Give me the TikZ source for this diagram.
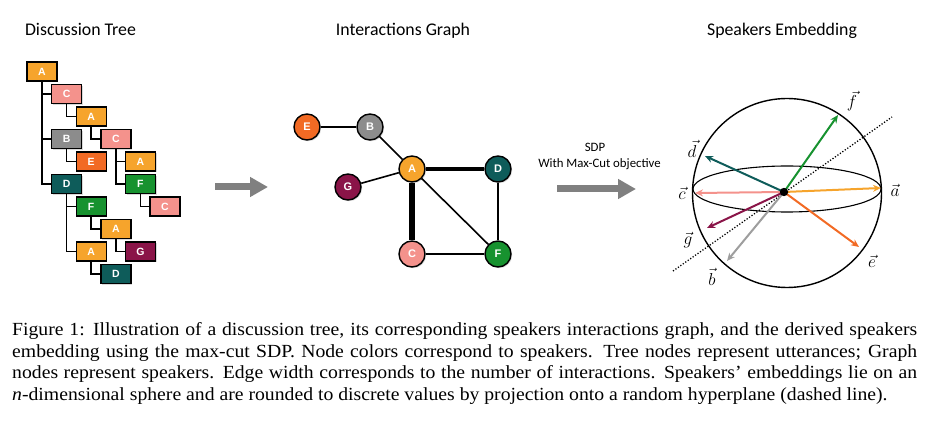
\documentclass[tikz,border=0pt]{standalone}
\usepackage{fontspec}
\setmainfont{Liberation Serif}
\newfontfamily\headfont{Carlito}
\newfontfamily\nodefont{Liberation Sans}
\newfontfamily\capfont[FakeStretch=1.065, Ligatures=TeX]{Liberation Serif}
\usepackage{tikz}
\usetikzlibrary{
	arrows.meta,
	positioning,
	shadows,
	}

\definecolor{spkA}{HTML}{F6A42C}
\definecolor{spkB}{HTML}{8C8C8C}
\definecolor{spkC}{HTML}{F4928C}
\definecolor{spkD}{HTML}{0E5C5A}
\definecolor{spkE}{HTML}{F26A24}
\definecolor{spkF}{HTML}{17922F}
\definecolor{spkG}{HTML}{8A1448}

\tikzset{
	utt/.style={draw, line width=1.4pt, minimum width=30pt, minimum height=19pt, inner sep=0pt, outer sep=0pt,
		text=white, font=\nodefont\bfseries\fontsize{10.5}{12}\selectfont,
		drop shadow={opacity=0.3, shadow xshift=1.2pt, shadow yshift=-1.2pt}},
	spk/.style={draw, circle, line width=1.4pt, minimum size=26pt, inner sep=0pt,
		text=white, font=\nodefont\bfseries\fontsize{11}{13}\selectfont,
		drop shadow={opacity=0.3, shadow xshift=1.2pt, shadow yshift=-1.2pt}},
	reply/.style={line width=1.7pt},
	vec/.style={line width=2pt, -{Stealth[length=8pt, width=7pt]}},
	bigarrow/.style={line width=7pt, draw=black!50, -{Triangle[length=18pt, width=19pt]}},
	title/.style={font=\headfont\fontsize{17.8}{20}\selectfont, anchor=base},
	sdptext/.style={font=\headfont\fontsize{12.8}{15}\selectfont, anchor=base},
	veclabel/.style={font=\fontsize{18.5}{20}\selectfont, inner sep=1pt},
}

\begin{document}
\begin{tikzpicture}[x=1pt, y=-1pt]
	\useasboundingbox (0,0) rectangle (931,427);

	% titles
	\node[title] (h1) at (80.5,36) {Discussion Tree};
	\node[title] (h2) at (403,36) {Interactions Graph};
	\node[title] (h3) at (782,36) {Speakers Embedding};

	% discussion tree
	\node[utt, fill=spkA] (t1) at (42,71.5) {A};
	\node[utt, fill=spkC, below right=3.5pt and -5.4pt of t1] (t2) {C};
	\node[utt, fill=spkA, below right=3.5pt and -5.4pt of t2] (t3) {A};
	\node[utt, fill=spkB, below=26pt of t2] (t4) {B};
	\node[utt, fill=spkC, below right=3.5pt and -5.4pt of t3] (t5) {C};
	\node[utt, fill=spkE, below right=3.5pt and -5.4pt of t4] (t6) {E};
	\node[utt, fill=spkA, below right=3.5pt and -5.4pt of t5] (t7) {A};
	\node[utt, fill=spkD, below=26pt of t4] (t8) {D};
	\node[utt, fill=spkF, below=3.5pt of t7] (t9) {F};
	\node[utt, fill=spkF, below right=3.5pt and -5.4pt of t8] (t10) {F};
	\node[utt, fill=spkC, below right=3.5pt and -5.4pt of t9] (t11) {C};
	\node[utt, fill=spkA, below right=3.5pt and -5.4pt of t10] (t12) {A};
	\node[utt, fill=spkA, below=26pt of t10] (t13) {A};
	\node[utt, fill=spkG, below right=3.5pt and -5.4pt of t12] (t14) {G};
	\node[utt, fill=spkD, below right=3.5pt and -5.4pt of t13] (t15) {D};
	\draw[reply] (t1.south) |- (t2.west);
	\draw[reply] (t1.south) |- (t4.west);
	\draw[reply] (t1.south) |- (t8.west);
	\draw[reply] (t2.south) |- (t3.west);
	\draw[reply] (t3.south) |- (t5.west);
	\draw[reply] (t4.south) |- (t6.west);
	\draw[reply] (t5.south) |- (t7.west);
	\draw[reply] (t5.south) |- (t9.west);
	\draw[reply] (t9.south) |- (t11.west);
	\draw[reply] (t8.south) |- (t10.west);
	\draw[reply] (t8.south) |- (t13.west);
	\draw[reply] (t10.south) |- (t12.west);
	\draw[reply] (t12.south) |- (t14.west);
	\draw[reply] (t13.south) |- (t15.west);

	% tree -> graph
	\coordinate (a1s) at (215,187);
	\coordinate (a1e) at (268,187);
	\draw[bigarrow] (a1s) -- (a1e);

	% interactions graph
	\node[spk, fill=spkE] (gE) at (307,127) {E};
	\node[spk, fill=spkB] (gB) at (370,127) {B};
	\node[spk, fill=spkA] (gA) at (412,169) {A};
	\node[spk, fill=spkD] (gD) at (498,169) {D};
	\node[spk, fill=spkG] (gG) at (348,187) {G};
	\node[spk, fill=spkC] (gC) at (412,254) {C};
	\node[spk, fill=spkF] (gF) at (498,254) {F};
	\draw[line width=1.6pt] (gE) -- (gB);
	\draw[line width=1.6pt] (gB) -- (gA);
	\draw[line width=1.6pt] (gG) -- (gA);
	\draw[line width=1.6pt] (gA) -- (gF);
	\draw[line width=1.6pt] (gD) -- (gF);
	\draw[line width=2.2pt] (gC) -- (gF);
	\draw[line width=3.8pt] (gA) -- (gD);
	\draw[line width=5.8pt] (gA) -- (gC);

	% graph -> embedding
	\node[sdptext] (sdp) at (595,152) {SDP};
	\node[sdptext] (obj) at (599.5,168) {With Max-Cut objective};
	\coordinate (a2s) at (557,189);
	\coordinate (a2e) at (636,189);
	\draw[bigarrow] (a2s) -- (a2e);

	% speakers embedding
	\coordinate (o) at (784,192);
	\coordinate (hp1) at (673,271);
	\coordinate (hp2) at (892,117);
	\draw[line width=1.3pt, dash pattern=on 1.2pt off 1.8pt] (hp1) -- (hp2);
	\draw[line width=1.1pt] (787,189) ellipse [x radius=94pt, y radius=23pt];
	\draw[line width=1.4pt] (787,193) circle [radius=94.5pt];
	\coordinate (ta) at (881,188);
	\coordinate (tb) at (727,261);
	\coordinate (tc) at (695,193);
	\coordinate (td) at (705,156);
	\coordinate (te) at (859,247);
	\coordinate (tf) at (838,115);
	\coordinate (tg) at (707,228);
	\draw[vec, spkA] (o) -- (ta);
	\draw[vec, black!38] (o) -- (tb);
	\draw[vec, spkC] (o) -- (tc);
	\draw[vec, spkD] (o) -- (td);
	\draw[vec, spkE] (o) -- (te);
	\draw[vec, spkF] (o) -- (tf);
	\draw[vec, spkG] (o) -- (tg);
	\fill (o) circle [radius=4.2pt];
	\node[veclabel] (la) at (895,190) {$\vec{a}$};
	\node[veclabel] (lb) at (712,277) {$\vec{b}$};
	\node[veclabel] (lc) at (682,193) {$\vec{c}$};
	\node[veclabel] (ld) at (692,149) {$\vec{d}$};
	\node[veclabel] (le) at (872,261) {$\vec{e}$};
	\node[veclabel] (lf) at (852,101) {$\vec{f}$};
	\node[veclabel] (lg) at (688,240) {$\vec{g}$};

	% caption
	\node[anchor=north west, inner sep=0pt, align=left, font=\capfont\fontsize{18.5}{21.5}\selectfont] (cap) at (12,322.5) {%
		\hbox to 905pt{Figure 1: Illustration of a discussion tree, its corresponding speakers interactions graph, and the derived speakers}\\
		\hbox to 905pt{embedding using the max-cut SDP. Node colors correspond to speakers. Tree nodes represent utterances; Graph}\\
		\hbox to 905pt{nodes represent speakers. Edge width corresponds to the number of interactions. Speakers’ embeddings lie on an}\\
		\hbox{\textit{n}-dimensional sphere and are rounded to discrete values by projection onto a random hyperplane (dashed line).}};
\end{tikzpicture}
\end{document}
